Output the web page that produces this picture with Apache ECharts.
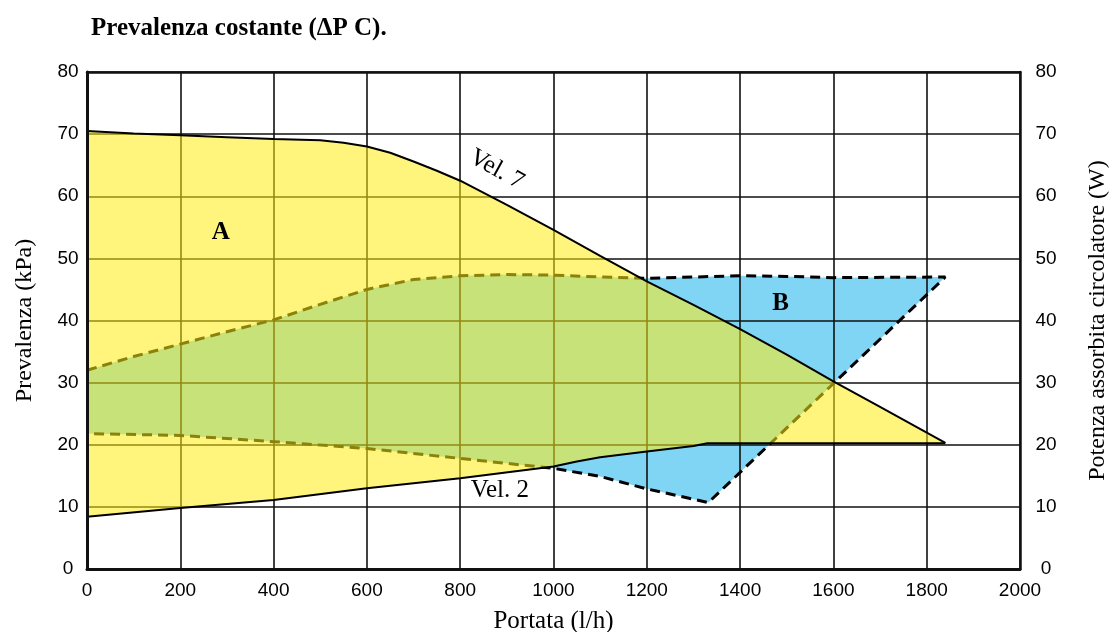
<!DOCTYPE html>
<html>
<head>
<meta charset="utf-8">
<script src="https://cdn.jsdelivr.net/npm/echarts@6/dist/echarts.min.js"></script>
<style>html,body{margin:0;padding:0;background:#fff;}#c{width:1114px;height:632px;}</style>
</head>
<body>
<div id="c"></div>
<script>
// Vel. 7 curve (Portata l/h, Prevalenza kPa)
const vel7X = [0, 100, 200, 300, 400, 500, 550, 600, 650, 700, 750, 800, 900, 1000, 1100, 1200, 1300, 1400, 1500, 1600, 1700, 1840];
const vel7Y = [70.5, 70.1, 69.8, 69.5, 69.2, 69.0, 68.6, 68.0, 67.0, 65.6, 64.1, 62.5, 58.6, 54.6, 50.4, 46.3, 42.5, 38.6, 34.5, 30.2, 26.1, 20.3];
// Vel. 2 curve
const vel2X = [0, 200, 400, 600, 800, 1000, 1050, 1100, 1200, 1300, 1330, 1840];
const vel2Y = [8.4, 9.8, 11.1, 13.0, 14.6, 16.5, 17.3, 18.0, 18.9, 19.8, 20.25, 20.25];
// Region B upper dashed boundary
const bTopX = [0, 100, 200, 300, 400, 500, 600, 700, 800, 900, 1000, 1100, 1200, 1300, 1400, 1500, 1600, 1840];
const bTopY = [32.0, 34.2, 36.2, 38.2, 40.1, 42.6, 45.0, 46.6, 47.2, 47.4, 47.3, 47.0, 46.8, 47.0, 47.2, 47.1, 46.9, 47.0];
// Region B lower dashed boundary
const bBotX = [0, 200, 400, 600, 800, 1000, 1100, 1200, 1332];
const bBotY = [21.8, 21.5, 20.5, 19.4, 17.8, 16.2, 14.9, 12.9, 10.7];
// axis ticks
const xTicks = [0, 200, 400, 600, 800, 1000, 1200, 1400, 1600, 1800, 2000];
const yTicks = [0, 10, 20, 30, 40, 50, 60, 70, 80];

const zip = (xs, ys) => xs.map((x, i) => [x, ys[i]]);
const vel7 = zip(vel7X, vel7Y);
const vel2 = zip(vel2X, vel2Y);
const bTop = zip(bTopX, bTopY);
const bBot = zip(bBotX, bBotY);
const polyA = vel7.concat(vel2.slice().reverse());
const polyB = bTop.concat(bBot.slice().reverse());

const serif = '"Liberation Serif", "DejaVu Serif", serif';
const sans = '"Liberation Sans", Arial, sans-serif';
const plain = v => String(v);

function polySeries(pts, fill, opacity, z) {
  return {
    type: 'custom', z: z, silent: true, clip: false,
    data: [[0, 0]],
    renderItem: function (params, api) {
      return {
        type: 'polygon',
        shape: { points: pts.map(p => api.coord(p)) },
        style: { fill: fill, opacity: opacity, stroke: null }
      };
    }
  };
}

const ymin = yTicks[0], ymax = yTicks[yTicks.length - 1];
const xmin = xTicks[0], xmax = xTicks[xTicks.length - 1];

const chart = echarts.init(document.getElementById('c'), null, { renderer: 'canvas' });
chart.setOption({
  animation: false,
  backgroundColor: '#fff',
  title: {
    text: 'Prevalenza costante (\u0394P C).',
    left: 86, top: 11,
    textStyle: { fontFamily: serif, fontWeight: 'bold', fontSize: 25, color: '#000' }
  },
  grid: { left: 87, right: 94, top: 72, bottom: 63, containLabel: false, outerBoundsMode: 'none' },
  xAxis: [
    { type: 'value', min: xmin, max: xmax, interval: 200, position: 'bottom', z: 2,
      axisLine: { show: false }, axisTick: { show: false }, axisLabel: { show: false },
      splitLine: { show: true, lineStyle: { color: '#111', width: 1.6 } } },
    { type: 'value', min: xmin, max: xmax, interval: 200, position: 'bottom', z: 10,
      axisLine: { show: true, onZero: false, lineStyle: { color: '#111', width: 3 } },
      axisTick: { show: false }, splitLine: { show: false },
      axisLabel: { show: true, margin: 12, formatter: plain, fontFamily: sans, fontSize: 19, color: '#000' },
      name: 'Portata (l/h)', nameLocation: 'middle', nameGap: 40,
      nameTextStyle: { fontFamily: serif, fontSize: 25, color: '#000' } },
    { type: 'value', min: xmin, max: xmax, interval: 200, position: 'top', z: 10,
      axisLine: { show: true, onZero: false, lineStyle: { color: '#111', width: 2.5 } },
      axisTick: { show: false }, axisLabel: { show: false }, splitLine: { show: false } }
  ],
  yAxis: [
    { type: 'value', min: ymin, max: ymax, interval: 10, position: 'left', z: 2,
      axisLine: { show: false }, axisTick: { show: false }, axisLabel: { show: false },
      splitLine: { show: true, lineStyle: { color: '#111', width: 1.6 } } },
    { type: 'value', min: ymin, max: ymax, interval: 10, position: 'left', z: 10,
      axisLine: { show: true, onZero: false, lineStyle: { color: '#111', width: 3 } },
      axisTick: { show: false }, splitLine: { show: false },
      axisLabel: { show: true, margin: 19, align: 'center', formatter: plain, fontFamily: sans, fontSize: 19, color: '#000' },
      name: 'Prevalenza (kPa)', nameLocation: 'middle', nameGap: 50,
      nameTextStyle: { fontFamily: serif, fontSize: 24, color: '#000' } },
    { type: 'value', min: ymin, max: ymax, interval: 10, position: 'right', z: 10,
      axisLine: { show: true, onZero: false, lineStyle: { color: '#111', width: 2.5 } },
      axisTick: { show: false }, splitLine: { show: false },
      axisLabel: { show: true, margin: 26, align: 'center', formatter: plain, fontFamily: sans, fontSize: 19, color: '#000' },
      name: 'Potenza assorbita circolatore (W)', nameLocation: 'middle', nameGap: 66,
      nameTextStyle: { fontFamily: serif, fontSize: 24, color: '#000' } }
  ],
  series: [
    polySeries(polyB, 'rgb(128,213,245)', 1, 1),
    { type: 'line', z: 3, data: polyB, symbol: 'none', silent: true,
      lineStyle: { color: '#000', width: 3, type: [10, 6] } },
    polySeries(polyA, 'rgb(255,237,19)', 0.55, 4),
    { type: 'line', z: 5, data: vel7, symbol: 'none', silent: true,
      lineStyle: { color: '#000', width: 2 } },
    { type: 'line', z: 5, data: vel2, symbol: 'none', silent: true,
      lineStyle: { color: '#000', width: 2 } },
    { type: 'scatter', z: 6, silent: true, symbolSize: 0,
      itemStyle: { color: '#000', opacity: 1 },
      label: { show: true, position: 'inside', formatter: '{b}', fontFamily: serif, fontSize: 25,
               color: '#000', opacity: 1, textBorderWidth: 0 },
      data: [
        { name: 'A', value: [287, 54.1], label: { fontWeight: 'bold' } },
        { name: 'B', value: [1487, 42.8], label: { fontWeight: 'bold' } },
        { name: 'Vel. 7', value: [878, 64.3], label: { rotate: -29 } },
        { name: 'Vel. 2', value: [885, 12.6] }
      ] }
  ]
});
</script>
</body>
</html>
